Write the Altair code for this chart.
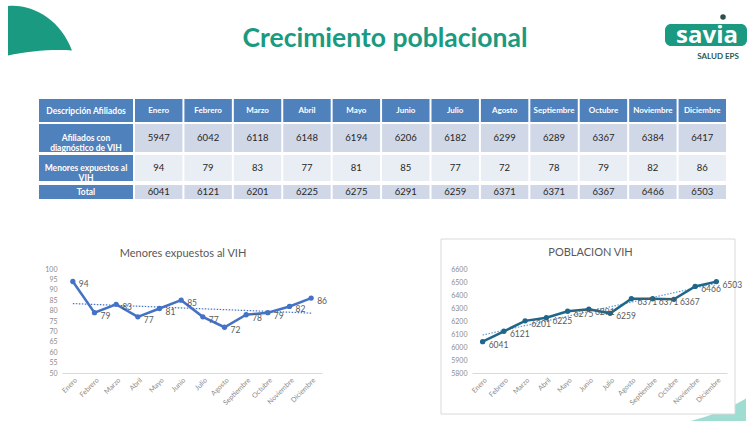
import json
import altair as alt
import pandas as pd

# ---------------- data ----------------
meses = ["Enero", "Febrero", "Marzo", "Abril", "Mayo", "Junio", "Julio",
         "Agosto", "Septiembre", "Octubre", "Noviembre", "Diciembre"]
afiliados_vih = [5947, 6042, 6118, 6148, 6194, 6206, 6182, 6299, 6289, 6367, 6384, 6417]
menores_expuestos = [94, 79, 83, 77, 81, 85, 77, 72, 78, 79, 82, 86]
total_poblacion = [6041, 6121, 6201, 6225, 6275, 6291, 6259, 6371, 6371, 6367, 6466, 6503]

filas = ["Descripción Afiliados", "Afiliados con\ndiagnóstico de VIH",
         "Menores expuestos al\nVIH", "Total"]
titulo = "Crecimiento poblacional"
titulo_menores = "Menores expuestos al VIH"
titulo_poblacion = "POBLACION VIH"
ticks_menores = [50, 55, 60, 65, 70, 75, 80, 85, 90, 95, 100]
ticks_poblacion = [5800, 5900, 6000, 6100, 6200, 6300, 6400, 6500, 6600]

# ---------------- styles / layout ----------------
GREEN = "#1a9a80"
BLUE_HDR = "#4f81bd"
ROW_COLORS = [BLUE_HDR, "#d0d8e8", "#e9edf4", "#d0d8e8"]
ROW_HEIGHTS = [23, 28, 26, 14]
FONT = "Lato"
one = pd.DataFrame({"k": [0]})

# ---------------- decorations (slide header) ----------------
fin = alt.Chart(one).mark_point(
    shape="M -1 -0.75 C -0.2 -0.82 0.65 -0.3 1 0.64 C 0.4 0.6 -0.4 0.66 -1 0.8 Z",
    filled=True, fill=GREEN, opacity=1, strokeWidth=0, size=4096).encode(
    x=alt.value(1), y=alt.value(-69))
title_txt = alt.Chart(one).mark_text(text=titulo, font=FONT, fontWeight="bold", fontSize=26.5,
                                     color=GREEN, align="center", baseline="alphabetic").encode(
    x=alt.value(346), y=alt.value(-52))
logo_rect = alt.Chart(one).mark_rect(fill=GREEN, cornerRadius=6).encode(
    x=alt.value(626), x2=alt.value(708), y=alt.value(-75), y2=alt.value(-53))
logo_pin = alt.Chart(one).mark_point(filled=True, fill="#2d4f47", opacity=1, size=30).encode(
    x=alt.value(684), y=alt.value(-82))
logo_txt = alt.Chart(one).mark_text(text="savia", font="Open Sans", fontWeight="bold", fontSize=24,
                                    color="white", align="center", baseline="alphabetic").encode(
    x=alt.value(668), y=alt.value(-56))
logo_sub = alt.Chart(one).mark_text(text="SALUD EPS", font=FONT, fontWeight="bold", fontSize=8,
                                    color="#2d5a4f", align="center", baseline="middle").encode(
    x=alt.value(679), y=alt.value(-42))
decor = [fin, title_txt, logo_rect, logo_pin, logo_txt, logo_sub]

# ---------------- table ----------------
df_desc = pd.DataFrame({"fila": filas})
rows = []
for i, m in enumerate(meses):
    rows.append({"mes": m, "fila": filas[0], "txt": m})
    rows.append({"mes": m, "fila": filas[1], "txt": str(afiliados_vih[i])})
    rows.append({"mes": m, "fila": filas[2], "txt": str(menores_expuestos[i])})
    rows.append({"mes": m, "fila": filas[3], "txt": str(total_poblacion[i])})
df_tab = pd.DataFrame(rows)

x_mes_tab = alt.X("mes:N", sort=meses, axis=None,
                  scale=alt.Scale(paddingInner=0.04, paddingOuter=0.02))


def table_row(k):
    fila = filas[k]
    h = ROW_HEIGHTS[k]
    y_f = alt.Y("fila:N", axis=None, scale=alt.Scale(paddingInner=0, paddingOuter=0))
    d_base = alt.Chart(df_desc).transform_filter(alt.datum.fila == fila)
    d_rect = d_base.mark_rect(fill=BLUE_HDR).encode(y=y_f)
    d_text = d_base.mark_text(color="white", fontWeight="bold", fontSize=8.5, lineBreak="\n",
                              lineHeight=10, font=FONT).encode(y=y_f, text="fila:N")
    d_layers = [d_rect, d_text] + (decor if k == 0 else [])
    desc = alt.layer(*d_layers).properties(width=94, height=h)

    m_base = alt.Chart(df_tab).transform_filter(alt.datum.fila == fila)
    m_rect = m_base.mark_rect(fill=ROW_COLORS[k]).encode(x=x_mes_tab, y=y_f)
    if k == 0:
        m_text = m_base.mark_text(color="white", fontWeight="bold", fontSize=8, font=FONT)
    else:
        m_text = m_base.mark_text(color="#262626", fontSize=9.5, font=FONT)
    m_text = m_text.encode(x=x_mes_tab, y=y_f, text="txt:N")
    months = alt.layer(m_rect, m_text).properties(width=593, height=h)
    return alt.hconcat(desc, months, spacing=1, bounds="flush")


table = alt.vconcat(*[table_row(k) for k in range(len(filas))], spacing=2)


# ---------------- line charts ----------------
def line_chart(values, title, ydom, yvals, color, trend_color, width, title_dy, extra=None):
    df = pd.DataFrame({"idx": list(range(len(meses))), "mes": meses, "valor": values})
    x = alt.X("mes:N", sort=meses, title=None,
              axis=alt.Axis(labelAngle=-45, labelFontSize=7, labelColor="#8c8c8c", ticks=False,
                            domainColor="#d9d9d9", labelPadding=3, grid=False, labelFont=FONT,
                            labelOverlap=False, zindex=1))
    y = alt.Y("valor:Q", title=None, scale=alt.Scale(domain=ydom, nice=False, zero=False),
              axis=alt.Axis(values=yvals, format="d", domain=False, ticks=False, grid=False,
                            labelFontSize=7, labelColor="#8c8c8c", labelPadding=5, labelFont=FONT,
                            labelOverlap=False, zindex=1))
    base = alt.Chart(df).encode(x=x, y=y)
    line = base.mark_line(color=color, strokeWidth=2.5,
                          point=alt.OverlayMarkDef(filled=True, size=28, color=color))
    labels = base.mark_text(align="left", dx=6, dy=3, fontSize=8.5, color="#595959", font=FONT).encode(
        text=alt.Text("valor:Q", format="d"))
    trend = alt.Chart(df).transform_regression(
        "idx", "valor", method="linear", extent=[0, len(meses) - 1]
    ).transform_calculate(
        mes=json.dumps(meses) + "[datum.idx]"
    ).mark_line(color=trend_color, strokeWidth=1.2, strokeDash=[1.5, 1.5]).encode(x=x, y=y)
    ttl = alt.Chart(one).mark_text(text=title, fontSize=11, color="#595959", font=FONT,
                                   align="center", baseline="middle").encode(
        x=alt.value(width / 2 - 9), y=alt.value(title_dy))
    layers = (extra or []) + [trend, line, labels, ttl]
    return alt.layer(*layers).properties(width=width, height=104)


left_chart = line_chart(menores_expuestos, titulo_menores, [50, 100], ticks_menores,
                        "#4472c4", "#4472c4", 260, -15)

swoosh = alt.Chart(one).mark_point(
    shape="M -1 0.3 Q 0.2 0 1 -0.5 L 1 0.3 Z", filled=True, fill="#9fdcd2", opacity=1,
    strokeWidth=0, size=3364).encode(x=alt.value(245), y=alt.value(144))
frame = alt.Chart(one).mark_rect(fill="white", stroke="#d9d9d9", strokeWidth=1).encode(
    x=alt.value(-31), x2=alt.value(263), y=alt.value(-30), y2=alt.value(145))
right_chart = line_chart(total_poblacion, titulo_poblacion, [5800, 6600], ticks_poblacion,
                         "#1f6689", "#5b9bd5", 255, -16, extra=[swoosh, frame])

spacer = alt.Chart(one).mark_point(opacity=0).encode(x=alt.value(0), y=alt.value(0)).properties(
    width=23, height=10)
charts_row = alt.hconcat(left_chart, right_chart, spacing=150, bounds="flush")
bottom_row = alt.hconcat(spacer, charts_row, spacing=0, bounds="flush")

chart = alt.vconcat(table, bottom_row, spacing=39,
                    padding={"left": 8, "top": 5, "right": 0, "bottom": 0}).configure(
    font=FONT).configure_view(stroke=None)

chart.save("out.html", embed_options={"renderer": "svg", "actions": False})
